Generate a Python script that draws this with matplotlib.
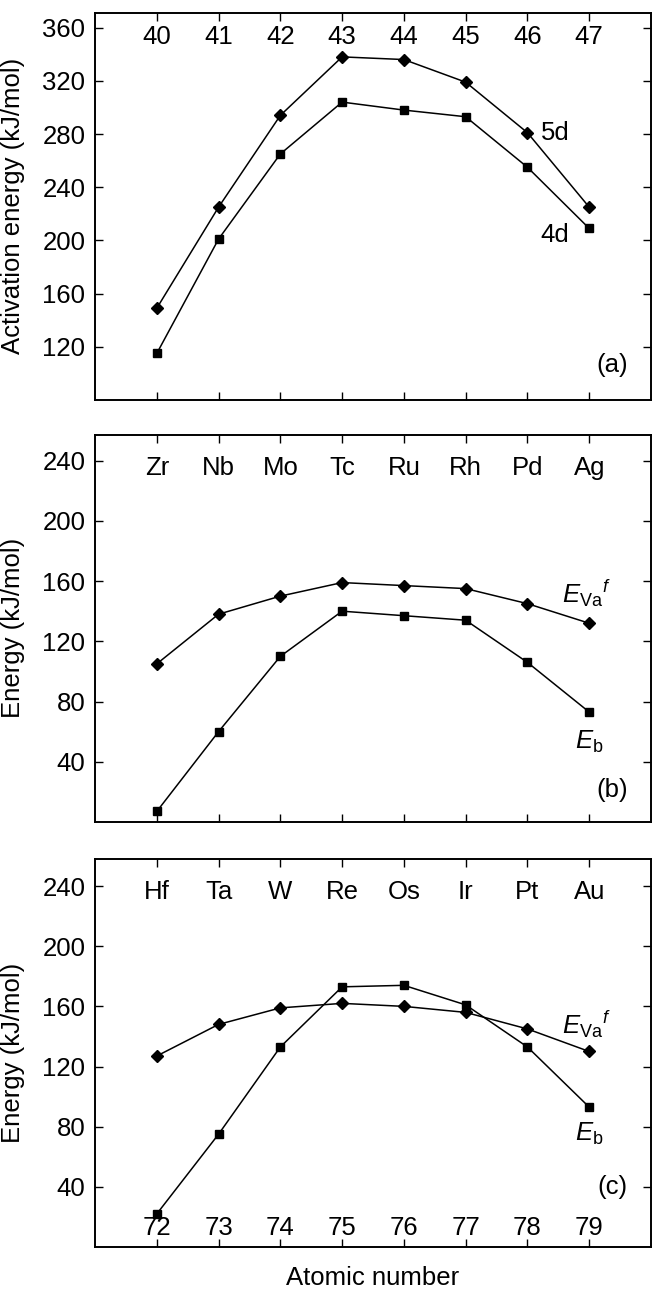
import matplotlib
matplotlib.use("Agg")
import matplotlib.pyplot as plt

plt.rcParams["font.family"] = ["Liberation Sans", "DejaVu Sans"]
plt.rcParams["mathtext.fontset"] = "custom"
plt.rcParams["mathtext.it"] = "Liberation Sans:italic"
plt.rcParams["mathtext.rm"] = "Liberation Sans"

# panel (a): activation energy, 4d and 5d rows
z_a = [40, 41, 42, 43, 44, 45, 46, 47]
act_5d = [149, 225, 294, 338, 336, 319, 281, 225]
act_4d = [115, 201, 265, 304, 298, 293, 255, 209]

# panel (b): 4d metals
sym_4d = ["Zr", "Nb", "Mo", "Tc", "Ru", "Rh", "Pd", "Ag"]
eva_4d = [105, 138, 150, 159, 157, 155, 145, 132]
eb_4d = [7, 60, 110, 140, 137, 134, 106, 73]

# panel (c): 5d metals
z_c = [72, 73, 74, 75, 76, 77, 78, 79]
sym_5d = ["Hf", "Ta", "W", "Re", "Os", "Ir", "Pt", "Au"]
eva_5d = [127, 148, 159, 162, 160, 156, 145, 130]
eb_5d = [22, 75, 133, 173, 174, 161, 133, 93]

FS = 18.5
W, H = 660, 1296

fig = plt.figure(figsize=(W / 100, H / 100), dpi=100)


def add_panel(top_px, bot_px):
    left, right = 95, 651
    return fig.add_axes([left / W, 1 - bot_px / H, (right - left) / W, (bot_px - top_px) / H])


def style(ax, yticks, ylim):
    ax.set_xlim(-1, 8)
    ax.set_ylim(*ylim)
    ax.set_xticks(list(range(len(z_a))))
    ax.set_xticklabels([])
    ax.set_yticks(yticks)
    ax.tick_params(direction="in", length=6, width=1.0, top=True, right=True,
                   labelsize=FS, pad=7)
    for s in ax.spines.values():
        s.set_linewidth(1.4)


line_kw = dict(color="black", lw=1.1)
dia = dict(marker="D", ms=6)
sq = dict(marker="s", ms=5.5)
xs = list(range(len(z_a)))

# (a)
ax1 = add_panel(13, 400)
ax1.plot(xs, act_5d, **dia, **line_kw)
ax1.plot(xs, act_4d, **sq, **line_kw)
style(ax1, [120, 160, 200, 240, 280, 320, 360], (80, 371))
for x, z in zip(xs, z_a):
    ax1.text(x, 0.938, str(z), transform=ax1.get_xaxis_transform(),
             ha="center", va="center", fontsize=FS)
ax1.text(6.45, 281, "5d", fontsize=FS, ha="center", va="center")
ax1.text(6.45, 204, "4d", fontsize=FS, ha="center", va="center")
ax1.text(0.93, 0.09, "(a)", transform=ax1.transAxes, fontsize=FS, ha="center", va="center")

# (b)
ax2 = add_panel(435, 822)
ax2.plot(xs, eva_4d, **dia, **line_kw)
ax2.plot(xs, eb_4d, **sq, **line_kw)
style(ax2, [40, 80, 120, 160, 200, 240], (0, 257))
for x, s in zip(xs, sym_4d):
    ax2.text(x, 0.914, s, transform=ax2.get_xaxis_transform(),
             ha="center", va="center", fontsize=FS)
ax2.text(6.95, 152, r"$E_{\mathrm{Va}}{}^{f}$", fontsize=FS, ha="center", va="center")
ax2.text(7.0, 53, r"$E_{\mathrm{b}}$", fontsize=FS, ha="center", va="center")
ax2.text(0.93, 0.083, "(b)", transform=ax2.transAxes, fontsize=FS, ha="center", va="center")

# (c)
ax3 = add_panel(859, 1247)
ax3.plot(xs, eva_5d, **dia, **line_kw)
ax3.plot(xs, eb_5d, **sq, **line_kw)
style(ax3, [40, 80, 120, 160, 200, 240], (0, 258))
for x, s, z in zip(xs, sym_5d, z_c):
    ax3.text(x, 0.916, s, transform=ax3.get_xaxis_transform(),
             ha="center", va="center", fontsize=FS)
    ax3.text(x, 0.048, str(z), transform=ax3.get_xaxis_transform(),
             ha="center", va="center", fontsize=FS)
ax3.text(6.95, 148, r"$E_{\mathrm{Va}}{}^{f}$", fontsize=FS, ha="center", va="center")
ax3.text(7.0, 75, r"$E_{\mathrm{b}}$", fontsize=FS, ha="center", va="center")
ax3.text(0.93, 0.155, "(c)", transform=ax3.transAxes, fontsize=FS, ha="center", va="center")

# axis titles
fig.text(1 / W, 1 - 206 / H, "Activation energy (kJ/mol)", rotation=90,
         ha="left", va="center", fontsize=FS)
fig.text(1 / W, 1 - 628 / H, "Energy (kJ/mol)", rotation=90,
         ha="left", va="center", fontsize=FS)
fig.text(1 / W, 1 - 1053 / H, "Energy (kJ/mol)", rotation=90,
         ha="left", va="center", fontsize=FS)
fig.text(373 / W, 1 - 1278 / H, "Atomic number", ha="center", va="center", fontsize=FS)

fig.savefig("out.png", dpi=100)
